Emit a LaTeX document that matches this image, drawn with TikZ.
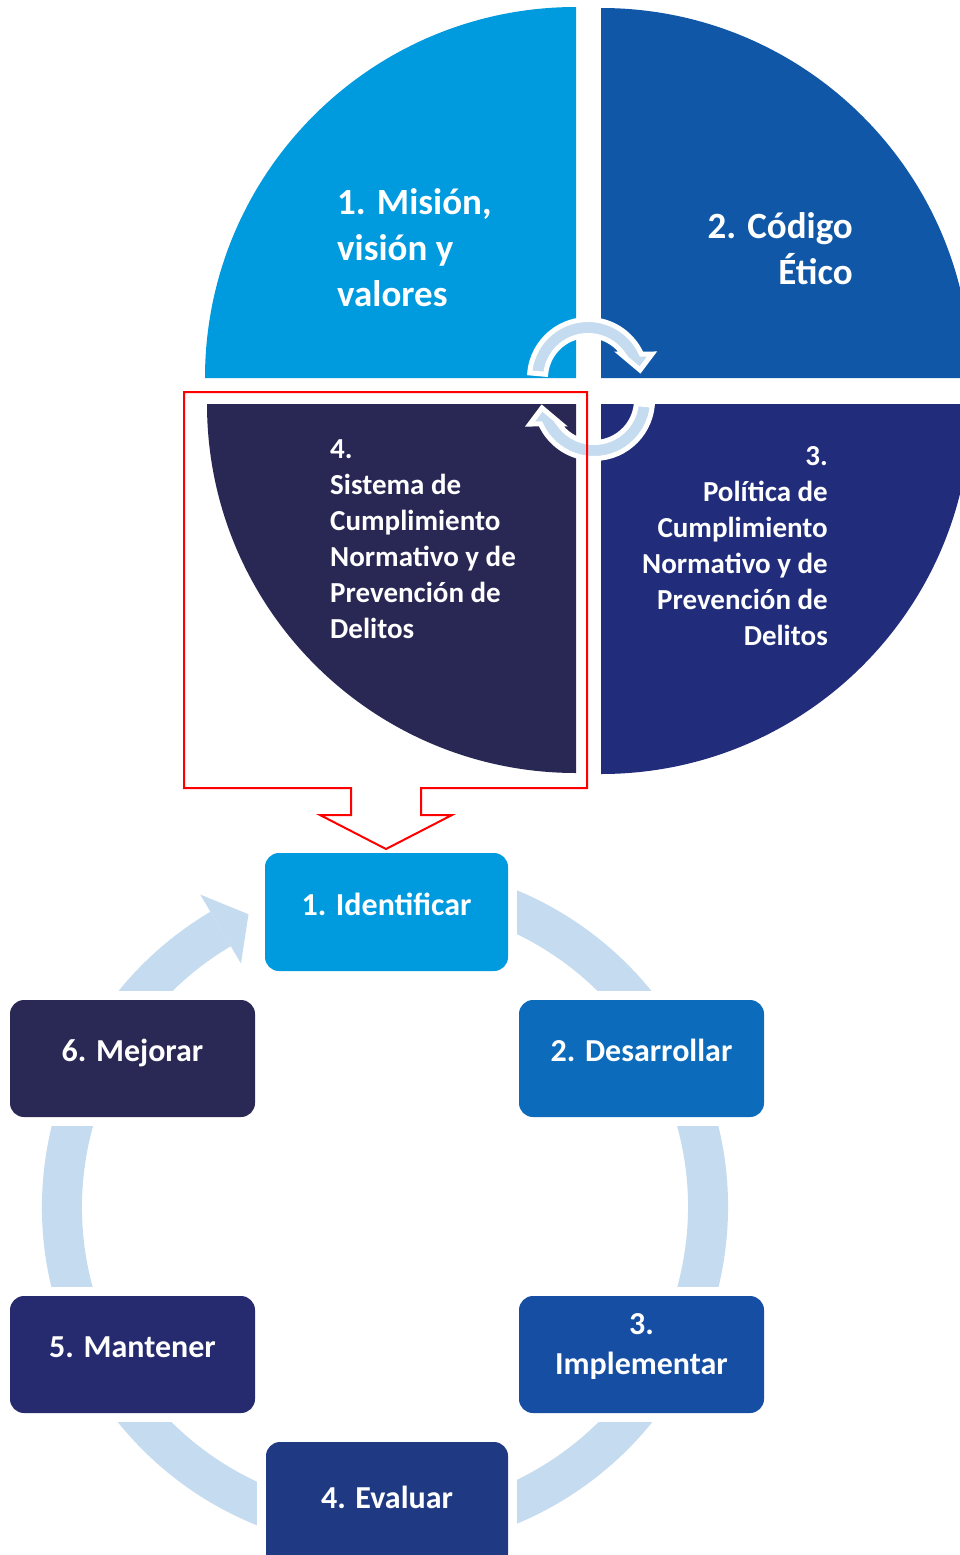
\documentclass[tikz,border=0pt]{standalone}
\usepackage{fontspec}
\setmainfont{Carlito}
\usetikzlibrary{calc}
\definecolor{qA}{RGB}{0,154,222}
\definecolor{qB}{RGB}{16,88,167}
\definecolor{qC}{RGB}{33,45,123}
\definecolor{qD}{RGB}{41,39,84}
\definecolor{ringblue}{RGB}{197,219,240}
\definecolor{bA}{RGB}{0,154,222}
\definecolor{bB}{RGB}{12,107,187}
\definecolor{bC}{RGB}{21,78,162}
\definecolor{bD}{RGB}{31,58,130}
\definecolor{bE}{RGB}{37,43,110}
\definecolor{bF}{RGB}{42,40,84}
\definecolor{redline}{RGB}{255,0,0}
\tikzset{
  quadtext/.style={text=white, inner sep=0pt},
  bigfont/.style={font=\fontsize{37}{46}\bfseries\selectfont},
  smallfont/.style={font=\fontsize{29}{36}\bfseries\selectfont},
  boxbase/.style={rounded corners=14pt, inner sep=0pt, text=white,
    font=\fontsize{32}{40}\bfseries\selectfont,
    minimum width=245pt, minimum height=117pt},
  box/.style={boxbase, text height=22pt, text depth=16pt},
  cover/.style={fill=white},
  cyclearrow/.style={fill=ringblue, draw=white, line width=5pt, line join=miter},
  ring/.style={draw=ringblue, line width=40pt},
  redarrow/.style={draw=redline, line width=2pt, line join=miter}
}
\begin{document}
\begin{tikzpicture}[x=1pt,y=-1pt]
\path[use as bounding box] (0,0) rectangle (960,1555);
\begin{scope}
\clip (0,0) rectangle (960,1555);
\fill[white] (0,0) rectangle (960,1555);
% pie quadrants
\fill[qA] (576,378) -- (205,378) arc[start angle=180,end angle=270,radius=371] -- cycle;
\fill[qB] (601,378) -- (601,8) arc[start angle=270,end angle=360,radius=370] -- cycle;
\fill[qC] (601,404) -- (971,404) arc[start angle=0,end angle=90,radius=370] -- cycle;
\fill[qD] (576,404) -- (576,773) arc[start angle=90,end angle=180,radius=369] -- cycle;
% quadrant texts
\node[quadtext, bigfont, anchor=west] (t1) at (337,251)
  {\begin{tabular}{@{}l@{}}1. Misión,\\visión y\\valores\end{tabular}};
\node[quadtext, bigfont, anchor=east] (t2) at (853,252)
  {\begin{tabular}{@{}r@{}}2. Código\\Ético\end{tabular}};
\node[quadtext, smallfont, anchor=east] (t3) at (828,548)
  {\begin{tabular}{@{}r@{}}3.\\Política de\\Cumplimiento\\Normativo y de\\Prevención de\\Delitos\end{tabular}};
\node[quadtext, smallfont, anchor=west] (t4) at (330,541)
  {\begin{tabular}{@{}l@{}}4.\\Sistema de\\Cumplimiento\\Normativo y de\\Prevención de\\Delitos\end{tabular}};
% central circular arrows
\begin{scope}[shift={(588,378)}]
  \filldraw[cyclearrow] (185:58.5) arc[start angle=185,end angle=335.8,radius=58.5]
    -- (64,-24) -- (52,-8) -- (33,-24) -- (325.6:42.5)
    arc[start angle=325.6,end angle=185,radius=42.5] -- cycle;
\end{scope}
\begin{scope}[shift={(594,400)}, rotate=180]
  \filldraw[cyclearrow] (185:58.5) arc[start angle=185,end angle=335.8,radius=58.5]
    -- (64,-24) -- (52,-8) -- (33,-24) -- (325.6:42.5)
    arc[start angle=325.6,end angle=185,radius=42.5] -- cycle;
\end{scope}
% cycle ring
\begin{scope}[shift={(385,1207)}]
  \draw[ring] (-80:323) arc[start angle=-80,end angle=239.4,radius=323];
  \fill[ringblue] (239.4:363) -- (245:323) -- (239.4:283) -- cycle;
\end{scope}
% white margins around boxes
\fill[cover] (256,844) rectangle (517,980);
\fill[cover] (510,991) rectangle (773,1126);
\fill[cover] (510,1287) rectangle (773,1422);
\fill[cover] (257,1433) rectangle (517,1575);
\fill[cover] (1,1287) rectangle (264,1422);
\fill[cover] (1,991) rectangle (264,1126);
% boxes
\node[box, fill=bA, minimum width=243pt, minimum height=118pt] (n1) at (386.5,912) {1. Identificar};
\node[box, fill=bB] (n2) at (641.5,1058.5) {2. Desarrollar};
\node[boxbase, fill=bC, text height=48pt, text depth=51pt] (n3) at (641.5,1354.5)
  {\begin{tabular}{@{}c@{}}3.\\Implementar\end{tabular}};
\node[box, fill=bD, minimum width=242pt, minimum height=126pt] (n4) at (387,1505) {4. Evaluar};
\node[box, fill=bE] (n5) at (132.5,1354.5) {5. Mantener};
\node[box, fill=bF] (n6) at (132.5,1058.5) {6. Mejorar};
% red outline arrow
\draw[redarrow] (184,392) -- (587,392) -- (587,788) -- (421,788) -- (421,815)
  -- (452,815) -- (386,849) -- (320,815) -- (351,815) -- (351,788) -- (184,788) -- cycle;
\end{scope}
\end{tikzpicture}
\end{document}
